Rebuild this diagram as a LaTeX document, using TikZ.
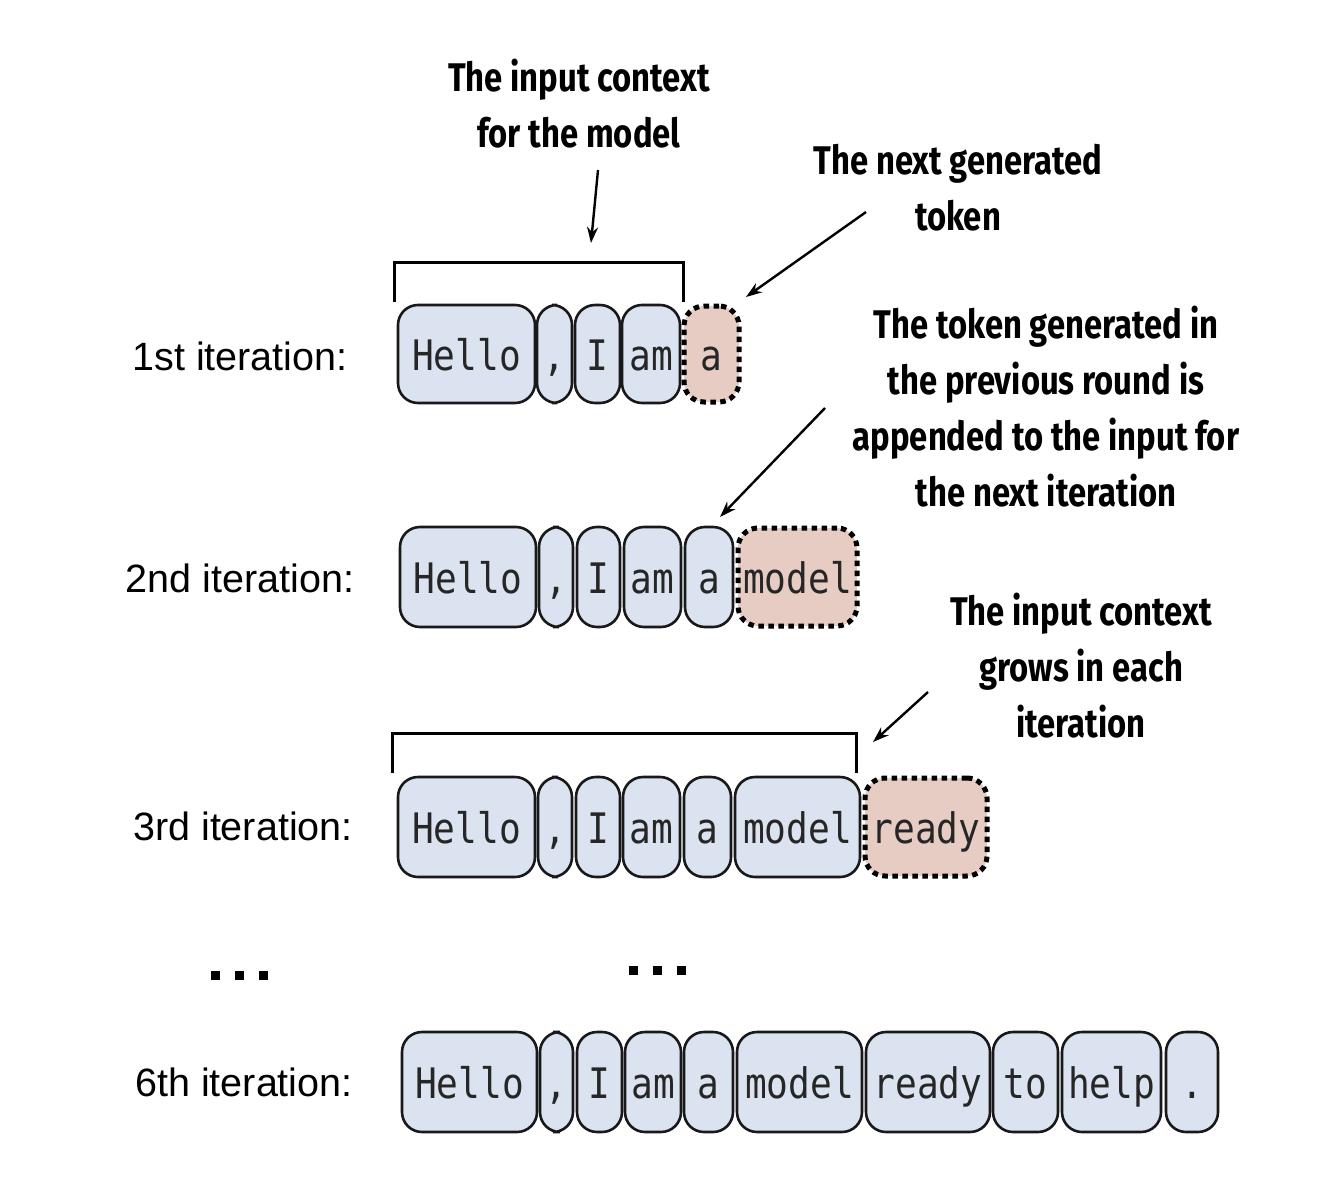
\documentclass[tikz,border=0pt]{standalone}
\usepackage{fontspec}
\usetikzlibrary{arrows.meta}
\newfontfamily\tokfont[FakeStretch=0.86]{DejaVu Sans Mono}
\newfontfamily\notefont[FakeStretch=0.82]{Fira Sans}
\newfontfamily\labfont{Liberation Sans}
\definecolor{tokblue}{RGB}{218,227,239}
\definecolor{tokpink}{RGB}{230,204,195}
\definecolor{tokline}{RGB}{25,25,25}
\tikzset{
  tok/.style={draw=tokline, line width=2.6pt, fill=tokblue, rounded corners=20pt,
    inner sep=0pt, text height=36pt, text depth=4pt,
    font=\tokfont\fontsize{42}{42}\selectfont, text=black!85},
  newtok/.style={tok, fill=tokpink, draw=black, line width=5pt, dash pattern=on 5.5pt off 4.5pt},
  lab/.style={font=\labfont\fontsize{39.5}{44}\selectfont},
  note/.style={font=\notefont\bfseries\fontsize{40}{56}\selectfont, align=center},
  arr/.style={-{Stealth[length=16pt,width=11pt]}, line width=2.4pt},
  brk/.style={line width=3pt},
  dotsq/.style={fill=black}
}
\begin{document}
\begin{tikzpicture}[x=1pt,y=-1pt]
\useasboundingbox (0,0) rectangle (1324,1198);
% labels
\node[lab] (l1) at (240,356) {1st iteration:};
\node[lab] (l2) at (240,578) {2nd iteration:};
\node[lab] (l3) at (243,826) {3rd iteration:};
\node[lab] (l6) at (244,1082) {6th iteration:};
% row 1
\node[tok, minimum width=137pt, minimum height=98pt] (a1) at (466.5,354) {Hello};
\node[tok, minimum width=35pt, minimum height=98pt] (a2) at (554.5,354) {,};
\node[tok, minimum width=45pt, minimum height=98pt] (a3) at (597.5,354) {I};
\node[tok, minimum width=58pt, minimum height=98pt] (a4) at (651,354) {am};
\node[newtok, minimum width=55pt, minimum height=96pt] (a5) at (711.5,354) {a};
% row 2
\node[tok, minimum width=136pt, minimum height=100pt] (b1) at (468,577) {Hello};
\node[tok, minimum width=34pt, minimum height=100pt] (b2) at (556,577) {,};
\node[tok, minimum width=43pt, minimum height=100pt] (b3) at (598.5,577) {I};
\node[tok, minimum width=57pt, minimum height=100pt] (b4) at (652.5,577) {am};
\node[tok, minimum width=48pt, minimum height=100pt] (b5) at (709,577) {a};
\node[newtok, minimum width=119pt, minimum height=98pt] (b6) at (797.5,577) {model};
% row 3
\node[tok, minimum width=137pt, minimum height=100pt] (c1) at (466.5,827) {Hello};
\node[tok, minimum width=34pt, minimum height=100pt] (c2) at (555,827) {,};
\node[tok, minimum width=44pt, minimum height=100pt] (c3) at (598,827) {I};
\node[tok, minimum width=57pt, minimum height=100pt] (c4) at (651.5,827) {am};
\node[tok, minimum width=47pt, minimum height=100pt] (c5) at (707.5,827) {a};
\node[tok, minimum width=125pt, minimum height=100pt] (c6) at (797.5,827) {model};
\node[newtok, minimum width=122pt, minimum height=98pt] (c7) at (926,827) {ready};
% row 6
\node[tok, minimum width=135pt, minimum height=100pt] (d1) at (469.5,1082) {Hello};
\node[tok, minimum width=33pt, minimum height=100pt] (d2) at (556.5,1082) {,};
\node[tok, minimum width=45pt, minimum height=100pt] (d3) at (599.5,1082) {I};
\node[tok, minimum width=56pt, minimum height=100pt] (d4) at (653,1082) {am};
\node[tok, minimum width=49pt, minimum height=100pt] (d5) at (708.5,1082) {a};
\node[tok, minimum width=125pt, minimum height=100pt] (d6) at (799.5,1082) {model};
\node[tok, minimum width=124pt, minimum height=100pt] (d7) at (928,1082) {ready};
\node[tok, minimum width=65pt, minimum height=100pt] (d8) at (1025.5,1082) {to};
\node[tok, minimum width=99pt, minimum height=100pt] (d9) at (1111.5,1082) {help};
\node[tok, minimum width=52pt, minimum height=100pt] (d10) at (1192,1082) {.};
% brackets
\coordinate (br1a) at (394,302);
\coordinate (br1b) at (683,302);
\draw[brk] (br1a) -- ++(0,-40) -| (br1b);
\coordinate (br3a) at (392,773);
\coordinate (br3b) at (856,773);
\draw[brk] (br3a) -- ++(0,-40) -| (br3b);
% notes
\node[note] (n1) at (579,104) {The input context\\for the model};
\node[note] (n2) at (958,188) {The next generated\\token};
\node[note] (n3) at (1046,407) {The token generated in\\the previous round is\\appended to the input for\\the next iteration};
\node[note] (n4) at (1081,666) {The input context\\grows in each\\iteration};
% arrows
\coordinate (s1) at (598,170); \coordinate (e1) at (591,243);
\coordinate (s2) at (866,212); \coordinate (e2) at (746,297);
\coordinate (s3) at (825,408); \coordinate (e3) at (720,517);
\coordinate (s4) at (928,692); \coordinate (e4) at (873,742);
\draw[arr] (s1) -- (e1);
\draw[arr] (s2) -- (e2);
\draw[arr] (s3) -- (e3);
\draw[arr] (s4) -- (e4);
% dots
\foreach \x in {215,239,263} {\fill[dotsq] (\x-4.5,975-4.5) rectangle ++(9,9);}
\foreach \x in {633,657,681} {\fill[dotsq] (\x-4.5,970-4.5) rectangle ++(9,9);}
\end{tikzpicture}
\end{document}
